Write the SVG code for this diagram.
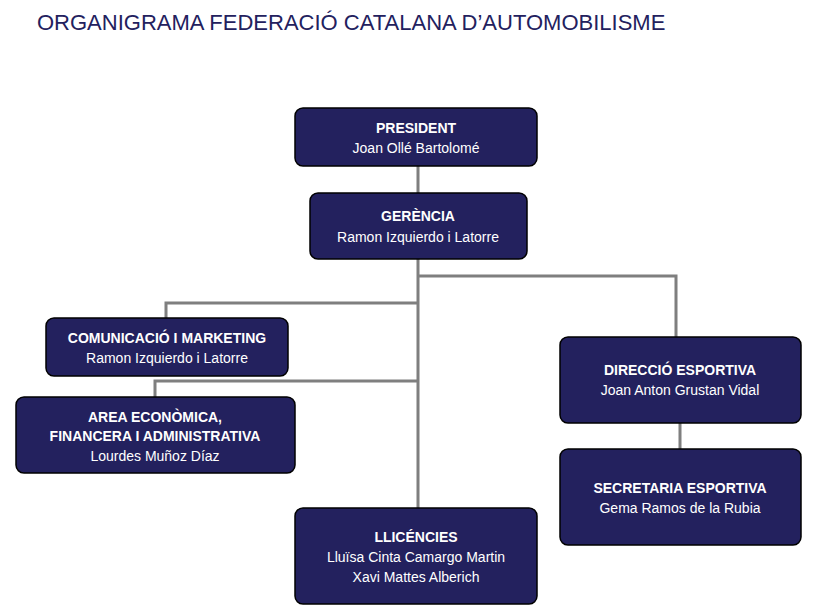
<svg xmlns="http://www.w3.org/2000/svg" width="821" height="616" viewBox="0 0 821 616">
<style>
.n{fill:#23215e;stroke:#000;stroke-width:1.5}
.b{font:bold 14px "Liberation Sans",Arial,sans-serif;fill:#fff;text-anchor:middle}
.t{font:14px "Liberation Sans",Arial,sans-serif;fill:#fff;text-anchor:middle}
.c{fill:none;stroke:#7f7f7f;stroke-width:3}
</style>
<rect width="821" height="616" fill="#fff"/>
<text x="37" y="30" font-family="Liberation Sans,Arial,sans-serif" font-size="22" fill="#23215e">ORGANIGRAMA FEDERACIÓ CATALANA D’AUTOMOBILISME</text>
<g id="connectors">
<path class="c" d="M418 166V193M418 259V508M418 276H676V337M418 303H166V318M418 381H155V397M680 423V449"/>
</g>
<g id="president"><rect class="n" x="295" y="108" width="242" height="58" rx="8"/><text class="b" x="416" y="133">PRESIDENT</text><text class="t" x="416" y="153">Joan Ollé Bartolomé</text></g>
<g id="gerencia"><rect class="n" x="310" y="193" width="217" height="66" rx="8"/><text class="b" x="418" y="221">GERÈNCIA</text><text class="t" x="418" y="242">Ramon Izquierdo i Latorre</text></g>
<g id="comunicacio"><rect class="n" x="46" y="318" width="242" height="58" rx="8"/><text class="b" x="167" y="343">COMUNICACIÓ I MARKETING</text><text class="t" x="167" y="363">Ramon Izquierdo i Latorre</text></g>
<g id="area"><rect class="n" x="16" y="397" width="279" height="76" rx="8"/><text class="b" x="155" y="422">AREA ECONÒMICA,</text><text class="b" x="155" y="441">FINANCERA I ADMINISTRATIVA</text><text class="t" x="155" y="461">Lourdes Muñoz Díaz</text></g>
<g id="llicencies"><rect class="n" x="295" y="508" width="242" height="96" rx="8"/><text class="b" x="416" y="542">LLICÉNCIES</text><text class="t" x="416" y="562">Lluïsa Cinta Camargo Martin</text><text class="t" x="416" y="582">Xavi Mattes Alberich</text></g>
<g id="direccio"><rect class="n" x="560" y="337" width="241" height="86" rx="8"/><text class="b" x="680" y="375">DIRECCIÓ ESPORTIVA</text><text class="t" x="680" y="395">Joan Anton Grustan Vidal</text></g>
<g id="secretaria"><rect class="n" x="560" y="449" width="241" height="96" rx="8"/><text class="b" x="680" y="493">SECRETARIA ESPORTIVA</text><text class="t" x="680" y="513">Gema Ramos de la Rubia</text></g>
</svg>
